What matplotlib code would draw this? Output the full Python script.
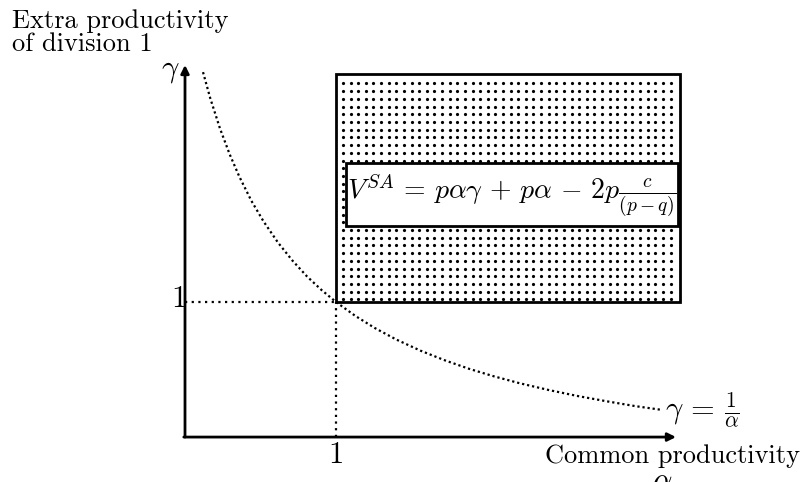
import matplotlib
matplotlib.use("Agg")
import matplotlib.pyplot as plt
import numpy as np
from matplotlib.patches import Rectangle

plt.rcParams['mathtext.fontset'] = 'cm'
plt.rcParams['font.family'] = ['cmr10', 'DejaVu Serif']

# curve gamma = 1/alpha
alpha = [0.45, 0.48, 0.52, 0.56, 0.60, 0.65, 0.70, 0.76, 0.82, 0.88, 0.94, 1.00,
         1.08, 1.16, 1.25, 1.35, 1.45, 1.55, 1.65, 1.76, 1.88, 2.00, 2.12, 2.24, 2.35]
gamma = [2.222, 2.083, 1.923, 1.786, 1.667, 1.538, 1.429, 1.316, 1.220, 1.136, 1.064, 1.000,
         0.926, 0.862, 0.800, 0.741, 0.690, 0.645, 0.606, 0.568, 0.532, 0.500, 0.472, 0.446, 0.426]

# axis origin and ends (data units)
axis_origin = (0.3755, 0.282)
axis_end = (2.406, 2.26)

# shaded region alpha >= 1, gamma >= 1
region_x = (1.0, 2.423)
region_y = (1.0, 2.212)
formula_x = (1.041, 2.415)
formula_y = (1.404, 1.739)

fig = plt.figure(figsize=(8.05, 4.82), dpi=100)
ax = fig.add_axes([0, 0, 1, 1])
ax.set_xlim(-0.3896, 2.9396)
ax.set_ylim(0.0431, 2.6055)
ax.axis('off')

x0, y0 = axis_origin

# dotted texture of the region (square grid of dots)
gx, gy = np.meshgrid(np.arange(region_x[0] + 0.029, region_x[1] - 0.01, 0.0315),
                     np.arange(region_y[1] - 0.05, region_y[0] + 0.01, -0.041))
ax.plot(gx.ravel(), gy.ravel(), 'o', color='black', ms=2.3, mew=0, zorder=1)
ax.add_patch(Rectangle((region_x[0], region_y[0]), region_x[1] - region_x[0],
                       region_y[1] - region_y[0], facecolor='none', edgecolor='black',
                       lw=2, zorder=2))
ax.add_patch(Rectangle((formula_x[0], formula_y[0]), formula_x[1] - formula_x[0],
                       formula_y[1] - formula_y[0], facecolor='white', edgecolor='black',
                       lw=2, zorder=3))
ax.text((formula_x[0] + formula_x[1]) / 2, (formula_y[0] + formula_y[1]) / 2 - 0.005,
        r'$V^{SA}\,=\,p\alpha\gamma\,+\,p\alpha\,-\,2p\frac{c}{(p-q)}$',
        fontsize=20, ha='center', va='center', zorder=4)

# guide lines to (1,1)
ax.plot([x0, 1], [1, 1], color='black', lw=1.6, ls=(0, (1, 2)), zorder=2)
ax.plot([1, 1], [y0, 1], color='black', lw=1.6, ls=(0, (1, 2)), zorder=2)

# hyperbola
ax.plot(alpha, gamma, color='black', lw=1.6, ls=(0, (1, 1.3)), zorder=4)

# axes with arrows
ax.annotate('', xy=(x0, axis_end[1]), xytext=(x0, y0),
            arrowprops=dict(arrowstyle='-|>', lw=2, color='black', mutation_scale=12,
                            shrinkA=0, shrinkB=0))
ax.annotate('', xy=(axis_end[0], y0), xytext=(x0 - 0.005, y0),
            arrowprops=dict(arrowstyle='-|>', lw=2, color='black', mutation_scale=12,
                            shrinkA=0, shrinkB=0))

# labels
ax.text(-0.340, 2.558, 'Extra productivity\nof division 1', fontsize=19,
        ha='left', va='top', linespacing=1.0)
ax.text(0.3135, 2.225, r'$\gamma$', fontsize=22, ha='center', va='center')
ax.text(0.381, 1.016, '1', fontsize=22, ha='right', va='center')
ax.text(1.0, 0.256, '1', fontsize=22, ha='center', va='top')
ax.text(2.361, 0.426, r'$\gamma\,=\,\frac{1}{\alpha}$', fontsize=22, ha='left', va='center')
ax.text(1.864, 0.144, 'Common productivity', fontsize=19, ha='left', va='baseline')
ax.text(2.348, 0.112, r'$\alpha$', fontsize=22, ha='center', va='top')

fig.savefig('out.png', dpi=100)
